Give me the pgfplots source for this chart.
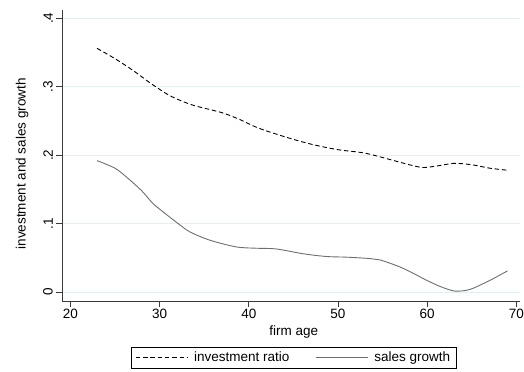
\documentclass[border=0pt]{standalone}
\usepackage{pgfplots}
\pgfplotsset{compat=1.18}
\usepackage{fontspec}
\setmainfont{Liberation Sans}

\definecolor{gridc}{HTML}{E6EFF0}
\definecolor{salesc}{HTML}{6E6E6E}
\definecolor{axisc}{HTML}{3A3A3A}

\newcommand{\chartfont}{\fontsize{13.5bp}{16bp}\selectfont}

\pgfplotstableread{
age  inv
23   0.356
25   0.341
27   0.324
29   0.305
31   0.288
32.5 0.279
34   0.272
37   0.262
39   0.252
41   0.240
44   0.227
47   0.216
50   0.208
53   0.203
56   0.193
58   0.186
59.5 0.182
61   0.184
63   0.188
65   0.186
67   0.181
69   0.178
}\invtable

\pgfplotstableread{
age  sales
23   0.192
25   0.181
26.3 0.168
28   0.148
29.3 0.129
31   0.111
32.1 0.100
33.4 0.088
35.6 0.076
38.6 0.066
41   0.064
43.1 0.063
46.1 0.056
48.7 0.052
51   0.051
53.6 0.049
54.7 0.047
56.9 0.037
58.5 0.027
59.9 0.0175
61.5 0.008
63.1 0.0015
64.8 0.004
67   0.017
69   0.031
}\salestable

\begin{document}
\begin{tikzpicture}[x=1bp,y=1bp]
\path[use as bounding box] (0,0) rectangle (524,371);
\begin{axis}[
  at={(62bp,70bp)}, anchor=south west,
  width=458bp, height=291bp, scale only axis,
  xmin=19.07, xmax=70.4, ymin=-0.013, ymax=0.412,
  axis x line*=bottom, axis y line*=left,
  axis line style={axisc, line width=0.9pt, -},
  xtick={20,30,40,50,60,70},
  ytick={0,0.1,0.2,0.3,0.4},
  yticklabels={0,.1,.2,.3,.4},
  tick align=outside, tick style={axisc, line width=0.7pt},
  major tick length=6bp,
  ymajorgrids, grid style={gridc, line width=0.7pt},
  /pgf/number format/assume math mode=true,
  every tick label/.append style={font=\chartfont},
  label style={font=\chartfont},
  xticklabel style={inner sep=1bp, yshift=-1bp},
  yticklabel style={rotate=90, anchor=south, inner sep=3bp},
  xlabel={firm age},
  xlabel style={at={(axis description cs:0.506,-0.108)}, anchor=center},
  ylabel={investment and sales growth},
  ylabel style={at={(axis description cs:-0.0873,0.471)}, anchor=center},
  legend columns=2,
  legend style={at={(axis description cs:0.506,0)}, anchor=north, yshift=-45.5bp,
    draw=black, line width=0.8pt, inner xsep=4bp, inner ysep=3bp,
    font=\chartfont,
    /tikz/every even column/.append style={column sep=24bp}},
  legend image code/.code={\draw[#1, line width=0.9pt] (0bp,0bp) -- (52bp,0bp);
    \path (56bp,0bp);},
  clip=false,
]
\addplot[black, line width=0.9pt, dash pattern=on 4.5bp off 2.8bp, smooth, tension=0.5] table[x=age, y=inv] {\invtable};
\addlegendentry{investment ratio}
\addplot[salesc, line width=0.9pt, smooth, tension=0.5] table[x=age, y=sales] {\salestable};
\addlegendentry{sales growth\hspace{6bp}}
\end{axis}
\end{tikzpicture}
\end{document}
